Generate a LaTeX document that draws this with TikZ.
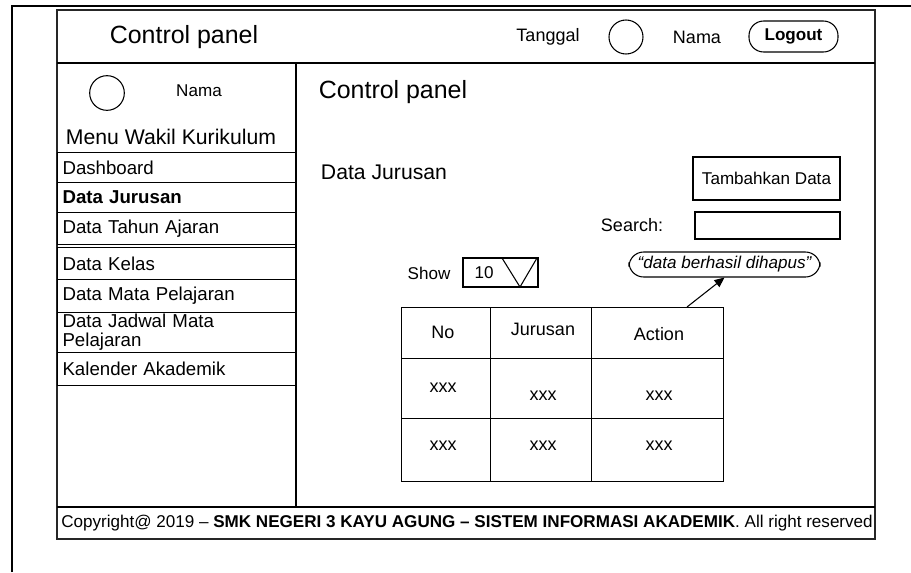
\documentclass[tikz,border=0pt]{standalone}
\usepackage{fontspec}
\setmainfont{Liberation Sans}
\usetikzlibrary{arrows.meta,positioning,calc}
\newcommand{\fbig}{\fontsize{18.7}{22}\selectfont}
\newcommand{\fsub}{\fontsize{15.9}{18}\selectfont}
\newcommand{\fmenu}{\fontsize{14}{14.3}\selectfont}
\newcommand{\fstd}{\fontsize{13.5}{16}\selectfont}
\newcommand{\fsml}{\fontsize{12.8}{15}\selectfont}

\begin{document}
\begin{tikzpicture}[
  x=0.75pt, y=-0.75pt, font=\fstd,
  frame/.style={line width=1.5pt},
  panel/.style={draw=black!85, line width=1.2pt},
  sep/.style={line width=0.9pt},
  menuitem/.style={draw, line width=0.8pt, anchor=north west, inner xsep=3.75pt,
                   inner ysep=0pt, text width=171.75pt, align=left, font=\fmenu},
  box/.style={draw, line width=0.8pt, inner sep=0pt},
  pill/.style={draw, line width=0.8pt, inner sep=0pt, rounded corners=11pt},
  cell/.style={draw, line width=0.8pt, anchor=north west, inner sep=0pt},
  ar/.style={-{Triangle[length=7.5pt,width=6.5pt]}, line width=0.8pt}
]
\useasboundingbox (0,0) rectangle (911,572);
%--- outer page frame ---------------------------------------------------------
\draw[frame] (12,572) -- (12,6) -- (911,6);

%--- panel ---------------------------------------------------------------------
\draw[panel] (57,10) rectangle (875,539);
\draw[sep] (57,63) -- (875,63);
\draw[sep] (57,507) -- (875,507);
\draw[sep] (296,63) -- (296,507);

%--- header --------------------------------------------------------------------
\node[font=\fbig] (hdtitle) at (184,37) {Control panel};
\node (tgl) at (548,37) {Tanggal};
\node[draw, circle, line width=0.8pt, minimum size=25.5pt, inner sep=0pt] (hdfoto) at (626,37) {};
\node (hdnama) at (697,37) {Nama};
\node[pill, minimum width=66.75pt, minimum height=23.25pt, font=\fsml\bfseries] (logout) at (793.5,36.5) {Logout};

%--- sidebar -------------------------------------------------------------------
\node[draw, circle, line width=0.8pt, minimum size=26pt, inner sep=0pt] (sbfoto) at (107,93) {};
\node[font=\fsml] (sbnama) at (199,91) {Nama};
\node[font=\fsub] (menuhd) at (171,137) {Menu Wakil Kurikulum};
\foreach \t/\h/\txt [count=\i] in {152/30/Dashboard, 182/30/\textbf{Data Jurusan},
    212/32/Data Tahun Ajaran, 247/32/Data Kelas, 279/33/Data Mata Pelajaran,
    312/40/{Data Jadwal Mata\\Pelajaran}, 352/33/Kalender Akademik}
  \node[menuitem, minimum height=\h*0.75pt] (m\i) at (57,\t) {\txt};

%--- content -------------------------------------------------------------------
\node[font=\fbig] (cptitle) at (393,92) {Control panel};
\node[font=\fsub] (djtitle) at (384,172) {Data Jurusan};
\node[box, minimum width=110.25pt, minimum height=32.25pt, font=\fsml] (tambah) at (766.5,178.5) {Tambahkan Data};
\node (searchlbl) at (632,225) {Search:};
\node[box, minimum width=108.75pt, minimum height=20.25pt] (search) at (767.5,225.5) {};
\node[font=\fsml] (showlbl) at (429,273) {Show};
\node[box, minimum width=56.25pt, minimum height=21.75pt] (showbox) at (500.5,272.5) {};
\node[font=\fsml] (showval) at (484,273) {10};
\draw[line width=0.8pt] (502,258) -- (537,258) -- (520,287) -- cycle;
\node[pill, minimum width=143.25pt, minimum height=18.75pt, font=\fsml\itshape] (bubble) at (724.5,264.5) {“data berhasil dihapus”};

%--- table ---------------------------------------------------------------------
\foreach \cx/\cw [count=\c] in {401/89, 490/101, 591/132}
  \foreach \ry/\rh [count=\r] in {307/51, 358/60, 418/63}
    \node[cell, minimum width=\cw*0.75pt, minimum height=\rh*0.75pt] (t\r\c) at (\cx,\ry) {};
\foreach \x/\y/\txt [count=\i] in {443/332/No, 543/329/Jurusan, 659/334/Action,
    443/388/xxx, 543/396/xxx, 659/396/xxx, 443/446/xxx, 543/446/xxx, 659/446/xxx}
  \node (tx\i) at (\x,\y) {\txt};
\coordinate (arrfrom) at (687,307);
\draw[ar] (arrfrom) -- (bubble.south);

%--- footer --------------------------------------------------------------------
\node[font=\fsml] (foot) at (467,523) {Copyright@ 2019 – \textbf{SMK NEGERI 3 KAYU AGUNG – SISTEM INFORMASI AKADEMIK}. All right reserved};
\end{tikzpicture}
\end{document}
